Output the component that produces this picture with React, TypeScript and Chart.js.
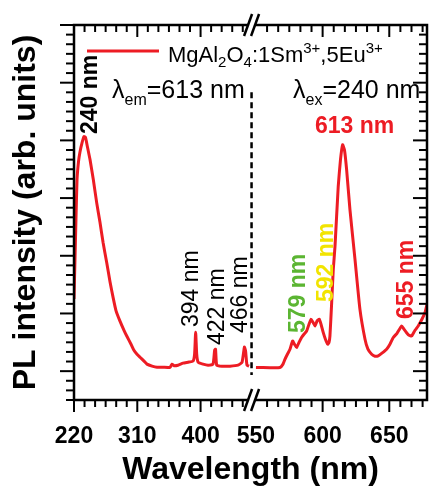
import React, { useEffect, useRef } from 'react';
import { Chart, registerables } from 'chart.js';

Chart.register(...registerables);

// Excitation spectrum (λem = 613 nm)
const EXC_WL = [220, 221.4, 222.8, 224.3, 226.4, 228.5, 231.4, 234.2, 236.4, 238.5, 242.8, 247.5, 252.3, 257, 261.3, 266.5, 271.2, 275.5, 279.7, 285.4, 291.1, 295.4, 301.1, 305, 309.6, 313.9, 319.6, 323.8, 331, 338, 346.6, 356.6, 359.4, 362.2, 367.9, 375, 382.2, 389.3, 391.5, 393, 394.5, 396.5, 403.5, 410.6, 417.7, 420, 421.3, 423, 430.5, 441.9, 453.3, 459, 462.3, 464, 466, 469];
const EXC_INT = [75, 116, 158, 199, 218, 228, 237.5, 244, 243, 235.5, 220, 199, 175, 154.6, 134, 113, 93, 77, 63, 52, 42.5, 36, 28, 22, 17.6, 14.5, 10.4, 7.3, 5.2, 4, 4, 4, 7.3, 5.7, 6.2, 8.3, 9.3, 10.4, 17.6, 40.5, 17.6, 9.3, 7.3, 6.2, 7.3, 21.8, 22.8, 6.2, 5.2, 5.2, 6.2, 9.3, 25, 21, 6.2, 5.2];

// Emission spectrum (λex = 240 nm)
const EM_WL = [550, 560.5, 568, 570.3, 571.8, 574, 575.5, 577.5, 578.9, 580.5, 582.3, 584.3, 586, 588, 589.8, 591.3, 592.8, 594.3, 595.8, 597.5, 598.8, 600.5, 602.1, 603.8, 604.8, 605.5, 606.8, 608, 609.3, 611.7, 613.4, 615, 616.4, 618, 620.5, 624.3, 628, 631.8, 634, 636.8, 639.3, 641.7, 644.5, 648, 650.5, 653, 655.8, 659.3, 661, 663, 664.8, 666.8, 669.3, 671.7, 674.5, 676.8, 678.3];
const EM_INT = [3.8, 3.6, 3.8, 7.3, 12.5, 18.7, 22.8, 31.4, 28, 24.6, 30, 35.3, 38.4, 41.8, 48.8, 54, 50.8, 47, 52, 54, 48.8, 40, 33.2, 28, 30, 36.6, 71.6, 105.8, 130, 192, 220, 235.5, 230, 209.5, 168, 116, 64.3, 33.2, 22.8, 17.6, 15.5, 15.9, 18.7, 22.8, 28, 35, 39.4, 47, 43.6, 40, 37.3, 36.6, 42.5, 47, 54, 61, 69.5];

// Axis ticks
const X_LEFT_MAJOR = [220, 310, 400];
const X_LEFT_MINOR = [235, 250, 265, 280, 295, 325, 340, 355, 370, 385, 415, 430, 445, 460];
const X_RIGHT_MAJOR = [600, 650];
const X_RIGHT_MINOR = [558.33, 566.67, 575, 583.33, 591.67, 608.33, 616.67, 625, 633.33, 641.67, 658.33, 666.67, 675];
const X_LEFT_LABELS = [220, 310, 400];
const X_RIGHT_LABELS = [550, 600, 650];
const Y_MAJOR = [0, 60, 120, 180, 240, 300, 360];
const Y_MINOR = [-30, -20, -10, 10, 20, 30, 40, 50, 70, 80, 90, 100, 110, 130, 140, 150, 160, 170, 190, 200, 210, 220, 230, 250, 260, 270, 280, 290, 310, 320, 330, 340, 350];

// Axis ranges (two x scales sharing the plot width, broken axis)
const XL_MIN = 220;
const XL_MAX = 722;
const XR_MIN = 413.5;
const XR_MAX = 678.3;
const BREAK_NM = 472.5;
const Y_MIN = -30;
const Y_MAX = 360;
const DASH_Y_TOP = 290;
const DASH_Y_BOTTOM = -4;

// Annotations
const PEAK_LABELS_V = [
  { text: '240 nm', wl: 240, axis: 'xl', cx: 89, yb: 134, bold: true, color: '#000000' },
  { text: '394 nm', wl: 394, axis: 'xl', cx: 190, yb: 327, bold: false, color: '#000000' },
  { text: '422 nm', wl: 422, axis: 'xl', cx: 215.5, yb: 345, bold: false, color: '#000000' },
  { text: '466 nm', wl: 466, axis: 'xl', cx: 238.5, yb: 333, bold: false, color: '#000000' },
  { text: '579 nm', wl: 579, axis: 'xr', cx: 296.5, yb: 333, bold: true, color: '#5bb532' },
  { text: '592 nm', wl: 592, axis: 'xr', cx: 325, yb: 302, bold: true, color: '#f2e400' },
  { text: '655 nm', wl: 655, axis: 'xr', cx: 405, yb: 319, bold: true, color: '#ed1c24' },
];

const RED = '#ed1c24';
const FONT = 'Arial, "Liberation Sans", Helvetica, sans-serif';

export default function App() {
  const ref = useRef<HTMLCanvasElement>(null);

  useEffect(() => {
    document.body.style.margin = '0';
    const canvas = ref.current;
    if (!canvas) return;

    const decor = {
      id: 'decor',
      afterDraw(chart: any) {
        const ctx: CanvasRenderingContext2D = chart.ctx;
        const { left, right, top, bottom } = chart.chartArea;
        const xl = chart.scales.xl;
        const xr = chart.scales.xr;
        const y = chart.scales.y;
        ctx.save();
        ctx.strokeStyle = '#000';
        ctx.lineCap = 'butt';
        const seg = (x1: number, y1: number, x2: number, y2: number) => {
          ctx.beginPath();
          ctx.moveTo(x1, y1);
          ctx.lineTo(x2, y2);
          ctx.stroke();
        };

        // frame
        ctx.lineWidth = 2.5;
        ctx.strokeRect(left, top, right - left, bottom - top);

        // ticks
        const MAJ = 12;
        const MIN = 7;
        ctx.lineWidth = 2;
        const xTick = (px: number, len: number) => {
          seg(px, bottom, px, bottom + len);
          seg(px, top, px, top + len);
        };
        X_LEFT_MAJOR.forEach((v) => xTick(xl.getPixelForValue(v), MAJ));
        X_LEFT_MINOR.forEach((v) => xTick(xl.getPixelForValue(v), MIN));
        X_RIGHT_MAJOR.forEach((v) => xTick(xr.getPixelForValue(v), MAJ));
        X_RIGHT_MINOR.forEach((v) => xTick(xr.getPixelForValue(v), MIN));
        const yTick = (py: number, len: number) => {
          seg(left, py, left - len, py);
          seg(right, py, right - len, py);
        };
        Y_MAJOR.forEach((v) => yTick(y.getPixelForValue(v), MAJ + 2));
        Y_MINOR.forEach((v) => yTick(y.getPixelForValue(v), MIN + 1));

        // break marks
        const bx = xl.getPixelForValue(BREAK_NM);
        const breakMark = (cx: number, cy: number) => {
          const h = 11;
          const s = 4;
          const g = 7;
          ctx.fillStyle = '#fff';
          ctx.beginPath();
          ctx.moveTo(cx - g / 2 - s, cy + h);
          ctx.lineTo(cx - g / 2 + s, cy - h);
          ctx.lineTo(cx + g / 2 + s, cy - h);
          ctx.lineTo(cx + g / 2 - s, cy + h);
          ctx.closePath();
          ctx.fill();
          ctx.lineWidth = 2.5;
          seg(cx - g / 2 - s, cy + h, cx - g / 2 + s, cy - h);
          seg(cx + g / 2 - s, cy + h, cx + g / 2 + s, cy - h);
        };
        breakMark(bx, bottom);
        breakMark(bx, top);

        // dashed separator
        ctx.lineWidth = 2.5;
        ctx.setLineDash([6, 4]);
        seg(bx, y.getPixelForValue(DASH_Y_TOP), bx, y.getPixelForValue(DASH_Y_BOTTOM));
        ctx.setLineDash([]);

        // tick labels
        ctx.fillStyle = '#000';
        ctx.font = `bold 23px ${FONT}`;
        ctx.textAlign = 'center';
        ctx.textBaseline = 'alphabetic';
        X_LEFT_LABELS.forEach((v) => ctx.fillText(String(v), xl.getPixelForValue(v), bottom + 43));
        X_RIGHT_LABELS.forEach((v) => ctx.fillText(String(v), xr.getPixelForValue(v), bottom + 43));

        // axis titles
        ctx.font = `bold 32px ${FONT}`;
        ctx.fillText('Wavelength (nm)', (left + right) / 2, bottom + 79);
        ctx.save();
        ctx.translate(35, (top + bottom) / 2);
        ctx.rotate(-Math.PI / 2);
        ctx.fillText('PL intensity (arb. units)', 0, 0);
        ctx.restore();

        // rich text helper
        const rich = (x0: number, y0: number, segs: [string, number, number][], color: string, weight: string) => {
          let cx = x0;
          ctx.fillStyle = color;
          ctx.textAlign = 'left';
          for (const [t, size, dy] of segs) {
            ctx.font = `${weight} ${size}px ${FONT}`;
            ctx.fillText(t, cx, y0 + dy);
            cx += ctx.measureText(t).width;
          }
        };

        // legend
        ctx.strokeStyle = RED;
        ctx.lineWidth = 3;
        seg(left + 13, top + 26, left + 85, top + 26);
        rich(left + 94, top + 37, [
          ['MgAl', 22, 0], ['2', 15, 5], ['O', 22, 0], ['4', 15, 5],
          [':1Sm', 22, 0], ['3+', 15, -9], [',5Eu', 22, 0], ['3+', 15, -9],
        ], '#000', 'normal');

        // excitation / emission labels
        rich(112, 98, [['λ', 25, 0], ['em', 16, 7], ['=613 nm', 25, 0]], '#000', 'normal');
        rich(293, 98, [['λ', 25, 0], ['ex', 16, 7], ['=240 nm', 25, 0]], '#000', 'normal');

        // peak labels
        ctx.fillStyle = RED;
        ctx.font = `bold 23px ${FONT}`;
        ctx.textAlign = 'left';
        ctx.fillText('613 nm', 315, 133);
        for (const p of PEAK_LABELS_V) {
          ctx.save();
          ctx.translate(p.cx + 0.36 * 23, p.yb);
          ctx.rotate(-Math.PI / 2);
          ctx.font = `${p.bold ? 'bold' : 'normal'} 23px ${FONT}`;
          ctx.fillStyle = p.color;
          ctx.textAlign = 'left';
          ctx.fillText(p.text, 0, 0);
          ctx.restore();
        }
        ctx.restore();
      },
    };

    const chart = new Chart(canvas, {
      type: 'line',
      data: {
        datasets: [
          {
            label: 'excitation',
            data: EXC_WL.map((w, i) => ({ x: w, y: EXC_INT[i] })),
            xAxisID: 'xl',
            yAxisID: 'y',
            borderColor: RED,
            borderWidth: 3,
            pointRadius: 0,
            tension: 0.15,
            fill: false,
          },
          {
            label: 'emission',
            data: EM_WL.map((w, i) => ({ x: w, y: EM_INT[i] })),
            xAxisID: 'xr',
            yAxisID: 'y',
            borderColor: RED,
            borderWidth: 3,
            pointRadius: 0,
            tension: 0.15,
            fill: false,
          },
        ],
      },
      options: {
        responsive: false,
        animation: false,
        devicePixelRatio: 1,
        layout: { padding: { left: 74, right: 7, top: 25, bottom: 89 } },
        plugins: { legend: { display: false }, tooltip: { enabled: false } },
        scales: {
          xl: { type: 'linear', min: XL_MIN, max: XL_MAX, display: false },
          xr: { type: 'linear', min: XR_MIN, max: XR_MAX, display: false },
          y: { type: 'linear', min: Y_MIN, max: Y_MAX, display: false },
        },
      },
      plugins: [decor],
    } as any);

    return () => chart.destroy();
  }, []);

  return (
    <div style={{ width: 434, height: 489, background: '#fff' }}>
      <canvas ref={ref} width={434} height={489} style={{ display: 'block' }} />
    </div>
  );
}
